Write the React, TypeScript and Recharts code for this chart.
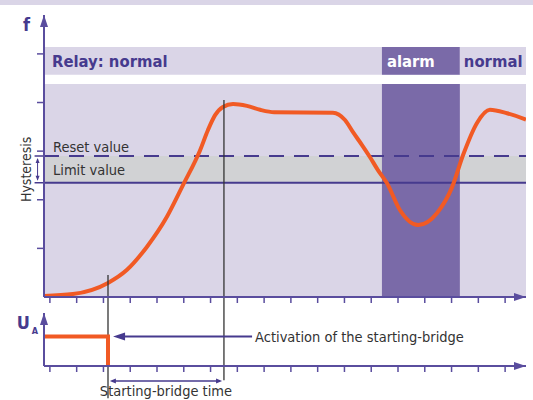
import React from 'react';
import { ComposedChart, Line, XAxis, YAxis, ReferenceArea, ReferenceLine, ReferenceDot } from 'recharts';

// frequency curve f(t)
const TIME = [0, 1.08, 2.39, 3.1, 3.84, 4.59, 5.19, 5.83, 6.12, 6.39, 6.68, 7.06, 7.58, 8.07, 8.6, 10.79, 11.24, 11.54, 11.87, 12.17, 12.47, 12.81, 13.29, 13.97, 14.68, 15.24, 15.65, 16.17, 16.65, 17.29, 18];
const FREQ = [0.02, 0.06, 0.29, 0.56, 1.03, 1.65, 2.3, 3.02, 3.43, 3.74, 3.91, 3.97, 3.93, 3.85, 3.8, 3.79, 3.64, 3.39, 3.13, 2.88, 2.61, 2.34, 1.79, 1.48, 1.73, 2.26, 2.92, 3.58, 3.85, 3.78, 3.65];

// relay output U_A (step)
const UA_TIME = [0, 2.39, 2.39];
const UA_LEVEL = [1, 1, 0];

const X_TICKS = [0.22, 1.22, 2.22, 3.22, 4.22, 5.22, 6.22, 7.22, 8.22, 9.22, 10.22, 11.22, 12.22, 13.22, 14.22, 15.22, 16.22, 17.22];
const F_TICKS = [1, 2, 3, 4, 5];

const RESET_VALUE = 2.9;
const LIMIT_VALUE = 2.35;
const ALARM_START = 12.62;
const ALARM_END = 15.53;
const BRIDGE_START = 2.39;
const BRIDGE_END = 6.72;

const T_MAX = 18;
const F_MAX = 5.8;
const PLOT_TOP = 4.38;
const RELAY_LOW = 4.57;
const RELAY_HIGH = 5.14;
const U_MAX = 1.8;

const AXIS = '#5a4d9e';
const LINE_PURPLE = '#463a8e';
const LAVENDER = '#dad5e7';
const ALARM = '#7a6aa8';
const GREY_BAND = '#d1d2d4';
const ORANGE = '#f15a24';
const DARK = '#333333';
const FONT = '"Liberation Sans Narrow", "DejaVu Sans Condensed", Roboto, sans-serif';

const curveData = TIME.map((t, i) => ({ t, f: FREQ[i] }));
const uaData = UA_TIME.map((t, i) => ({ t, u: UA_LEVEL[i] }));

const noTick = () => <g />;

const ArrowUp = ({ cx, cy, label, sub }: any) => (
  <g>
    <path d={`M${cx},${cy} L${cx - 4},${cy + 12} L${cx + 4},${cy + 12} Z`} fill={AXIS} />
    <text x={cx - 14} y={cy + 16} textAnchor="end" fill={LINE_PURPLE} fontSize={18} fontWeight={700} fontFamily={FONT}>
      {label}
    </text>
    {sub && (
      <text x={cx - 6} y={cy + 21} textAnchor="end" fill={LINE_PURPLE} fontSize={9} fontWeight={700} fontFamily={FONT}>
        {sub}
      </text>
    )}
  </g>
);

const ArrowRight = ({ cx, cy }: any) => (
  <path d={`M${cx},${cy} L${cx - 12},${cy - 4} L${cx - 12},${cy + 4} Z`} fill={AXIS} />
);

const LeftArrow = ({ x1, y1, x2 }: any) => {
  const left = Math.min(x1, x2);
  const right = Math.max(x1, x2);
  return (
    <g>
      <line x1={left + 8} y1={y1} x2={right} y2={y1} stroke={LINE_PURPLE} strokeWidth={2} />
      <path d={`M${left},${y1} L${left + 12},${y1 - 4} L${left + 12},${y1 + 4} Z`} fill={LINE_PURPLE} />
    </g>
  );
};

const DoubleArrow = ({ x1, y1, x2 }: any) => {
  const left = Math.min(x1, x2);
  const right = Math.max(x1, x2);
  return (
    <g>
      <line x1={left + 2} y1={y1} x2={right - 2} y2={y1} stroke={LINE_PURPLE} strokeWidth={1.3} />
      <path d={`M${left},${y1} L${left + 6},${y1 - 2.5} L${left + 6},${y1 + 2.5} Z`} fill={LINE_PURPLE} />
      <path d={`M${right},${y1} L${right - 6},${y1 - 2.5} L${right - 6},${y1 + 2.5} Z`} fill={LINE_PURPLE} />
    </g>
  );
};

const Hysteresis = ({ x1, y1, y2 }: any) => {
  const top = Math.min(y1, y2);
  const bottom = Math.max(y1, y2);
  const mid = (top + bottom) / 2;
  return (
    <g>
      <line x1={x1 - 3} y1={top} x2={x1 + 7} y2={top} stroke={LINE_PURPLE} strokeWidth={1.5} />
      <line x1={x1 - 3} y1={bottom} x2={x1 + 7} y2={bottom} stroke={LINE_PURPLE} strokeWidth={1.5} />
      <line x1={x1} y1={top + 3} x2={x1} y2={bottom - 3} stroke={LINE_PURPLE} strokeWidth={1} />
      <path d={`M${x1},${top + 2} L${x1 - 2},${top + 7} L${x1 + 2},${top + 7} Z`} fill={LINE_PURPLE} />
      <path d={`M${x1},${bottom - 2} L${x1 - 2},${bottom - 7} L${x1 + 2},${bottom - 7} Z`} fill={LINE_PURPLE} />
      <text
        x={x1 - 12}
        y={mid}
        transform={`rotate(-90 ${x1 - 12} ${mid})`}
        textAnchor="middle"
        dominantBaseline="central"
        fill={DARK}
        fontSize={14}
        fontFamily={FONT}
      >
        Hysteresis
      </text>
    </g>
  );
};

export default function App() {
  return (
    <div style={{ position: 'absolute', left: 0, top: 0, width: 533, height: 400, background: '#fff', fontFamily: FONT, overflow: 'hidden' }}>
      <div style={{ position: 'absolute', left: 0, top: 0, width: 533, height: 5, background: LAVENDER }} />

      <div style={{ position: 'absolute', left: 0, top: 0 }}>
        <ComposedChart width={533} height={400} data={curveData} margin={{ top: 15, right: 7, bottom: 93, left: 0 }}>
          <XAxis type="number" dataKey="t" domain={[0, T_MAX]} ticks={X_TICKS} interval={0} allowDataOverflow height={10}
            stroke={AXIS} axisLine={{ stroke: AXIS, strokeWidth: 2 }} tickLine={{ stroke: AXIS, strokeWidth: 1.5 }} tickSize={6} tick={noTick} />
          <YAxis type="number" domain={[0, F_MAX]} ticks={F_TICKS} interval={0} allowDataOverflow width={44}
            stroke={AXIS} axisLine={{ stroke: AXIS, strokeWidth: 2 }} tickLine={{ stroke: AXIS, strokeWidth: 1.5 }} tickSize={7} tick={noTick} />

          <ReferenceArea x1={0} x2={T_MAX} y1={RELAY_LOW} y2={RELAY_HIGH} fill={LAVENDER} fillOpacity={1} strokeWidth={0}
            label={{ value: 'Relay: normal', position: 'insideLeft', offset: 8, fill: LINE_PURPLE, fontSize: 16.5, fontWeight: 700, fontFamily: FONT }} />
          <ReferenceArea x1={ALARM_START} x2={ALARM_END} y1={RELAY_LOW} y2={RELAY_HIGH} fill={ALARM} fillOpacity={1} strokeWidth={0}
            label={{ value: 'alarm', position: 'insideLeft', offset: 5, fill: '#ffffff', fontSize: 16.5, fontWeight: 700, fontFamily: FONT }} />
          <ReferenceArea x1={ALARM_END} x2={T_MAX} y1={RELAY_LOW} y2={RELAY_HIGH} fill={LAVENDER} fillOpacity={1} strokeWidth={0}
            label={{ value: 'normal', position: 'insideLeft', offset: 4, fill: LINE_PURPLE, fontSize: 16.5, fontWeight: 700, fontFamily: FONT }} />

          <ReferenceArea x1={0} x2={T_MAX} y1={0} y2={PLOT_TOP} fill={LAVENDER} fillOpacity={1} strokeWidth={0} />
          <ReferenceArea x1={0} x2={T_MAX} y1={LIMIT_VALUE} y2={RESET_VALUE} fill={GREY_BAND} fillOpacity={1} strokeWidth={0}
            label={{ value: 'Limit value', position: 'insideLeft', offset: 9, fill: DARK, fontSize: 14.5, fontFamily: FONT }} />
          <ReferenceArea x1={ALARM_START} x2={ALARM_END} y1={0} y2={PLOT_TOP} fill={ALARM} fillOpacity={1} strokeWidth={0} />

          <ReferenceLine y={RESET_VALUE} stroke={LINE_PURPLE} strokeWidth={2} strokeDasharray="15 10"
            label={{ value: 'Reset value', position: 'insideBottomLeft', offset: 9, dy: 5, fill: DARK, fontSize: 14.5, fontFamily: FONT }} />
          <ReferenceLine y={LIMIT_VALUE} stroke={LINE_PURPLE} strokeWidth={2} />
          <ReferenceLine segment={[{ x: -0.24, y: LIMIT_VALUE }, { x: -0.24, y: RESET_VALUE }]} ifOverflow="visible" shape={Hysteresis} />

          <Line type="monotone" dataKey="f" stroke={ORANGE} strokeWidth={4} dot={false} isAnimationActive={false} />

          <ReferenceLine segment={[{ x: BRIDGE_START, y: 0.45 }, { x: BRIDGE_START, y: -2.08 }]} ifOverflow="visible" stroke={DARK} strokeWidth={1.3} />
          <ReferenceLine segment={[{ x: BRIDGE_END, y: 4.05 }, { x: BRIDGE_END, y: -1.71 }]} ifOverflow="visible" stroke={DARK} strokeWidth={1.3} />

          <ReferenceDot x={0} y={F_MAX} ifOverflow="visible" shape={(p: any) => <ArrowUp {...p} label="f" />} />
          <ReferenceDot x={T_MAX} y={0} ifOverflow="visible" shape={ArrowRight} />
        </ComposedChart>
      </div>

      <div style={{ position: 'absolute', left: 0, top: 0 }}>
        <ComposedChart width={533} height={400} data={uaData} margin={{ top: 313, right: 7, bottom: 24, left: 0 }}>
          <XAxis type="number" dataKey="t" domain={[0, T_MAX]} ticks={X_TICKS} interval={0} allowDataOverflow height={10}
            stroke={AXIS} axisLine={{ stroke: AXIS, strokeWidth: 2 }} tickLine={{ stroke: AXIS, strokeWidth: 1.5 }} tickSize={6} tick={noTick} />
          <YAxis type="number" domain={[0, U_MAX]} ticks={[]} allowDataOverflow width={44}
            stroke={AXIS} axisLine={{ stroke: AXIS, strokeWidth: 2 }} tickLine={false} tick={noTick} />

          <Line type="linear" dataKey="u" stroke={ORANGE} strokeWidth={4} dot={false} isAnimationActive={false} />

          <ReferenceLine segment={[{ x: 2.58, y: 1 }, { x: 7.77, y: 1 }]} ifOverflow="visible" shape={LeftArrow}
            label={{ value: 'Activation of the starting-bridge', position: 'right', offset: 3, fill: DARK, fontSize: 14.5, fontFamily: FONT }} />
          <ReferenceLine segment={[{ x: 2.46, y: -0.51 }, { x: 6.65, y: -0.51 }]} ifOverflow="visible" shape={DoubleArrow}
            label={{ value: 'Starting-bridge time', position: 'bottom', offset: 5, fill: DARK, fontSize: 14.5, fontFamily: FONT }} />

          <ReferenceDot x={0} y={U_MAX} ifOverflow="visible" shape={(p: any) => <ArrowUp {...p} label="U" sub="A" />} />
          <ReferenceDot x={T_MAX} y={0} ifOverflow="visible" shape={ArrowRight} />
        </ComposedChart>
      </div>
    </div>
  );
}
